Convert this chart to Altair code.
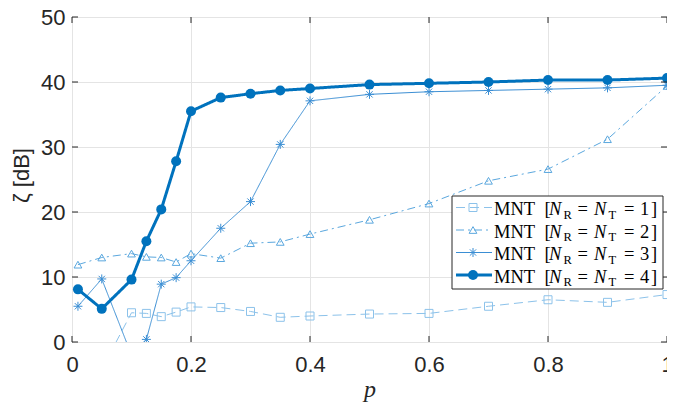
import altair as alt
import pandas as pd

# ---- data ----
p_vals = [0.01, 0.05, 0.1, 0.125, 0.15, 0.175, 0.2, 0.25, 0.3, 0.35, 0.4, 0.5, 0.6, 0.7, 0.8, 0.9, 1.0]
zeta_n1 = [-2.5, -4.2, 4.5, 4.4, 3.9, 4.6, 5.4, 5.3, 4.7, 3.8, 4.0, 4.3, 4.4, 5.5, 6.5, 6.1, 7.3]
zeta_n2 = [11.9, 13.0, 13.6, 13.1, 13.0, 12.3, 13.6, 12.9, 15.2, 15.4, 16.6, 18.8, 21.3, 24.8, 26.6, 31.2, 39.4]
zeta_n3 = [5.5, 9.7, -2.0, 0.4, 8.9, 9.9, 12.5, 17.5, 21.6, 30.4, 37.1, 38.1, 38.5, 38.7, 38.9, 39.1, 39.5]
zeta_n4 = [8.1, 5.1, 9.6, 15.5, 20.4, 27.8, 35.5, 37.6, 38.2, 38.7, 39.0, 39.6, 39.8, 40.0, 40.3, 40.3, 40.6]
series_n = ["1", "2", "3", "4"]
x_ticks = [0, 0.2, 0.4, 0.6, 0.8, 1]
y_ticks = [0, 10, 20, 30, 40, 50]

# ---- layout / style ----
W, H = 595, 325
LX = W - 599  # legend horizontal shift (legend anchored to the right edge)
AX = "#262626"
GRID = "#e4e4e4"
STAR = "M-1,0L1,0M0,-1L0,1M-0.7,-0.7L0.7,0.7M-0.7,0.7L0.7,-0.7"
styles = [
    dict(color="#8cc2ea", width=1, dash=[9, 5], shape="square", size=64, filled=False, sw=1),
    dict(color="#5aa7de", width=1, dash=[8, 4, 2, 4], shape="triangle-up", size=60, filled=False, sw=1),
    dict(color="#3a8ed4", width=1, dash=[1, 0], shape=STAR, size=81, filled=False, sw=1),
    dict(color="#0072bd", width=3, dash=[1, 0], shape="circle", size=100, filled=True, sw=1),
]
series_vals = [zeta_n1, zeta_n2, zeta_n3, zeta_n4]

xs = alt.Scale(domain=[0, 1], nice=False, zero=False)
ys = alt.Scale(domain=[0, 50], nice=False, zero=False)
x_enc = alt.X("p:Q", scale=xs, axis=alt.Axis(
    values=x_ticks, format="~g", title="p", grid=True, gridColor=GRID, labelFlush=False,
    ticks=False, tickSize=0, domain=False, labelFont="Liberation Sans", labelFontSize=22,
    labelColor=AX, labelPadding=12, titleFont="Liberation Serif", titleFontStyle="italic",
    titleFontWeight="normal", titleFontSize=24, titleColor=AX, titleY=54,
    titleBaseline="alphabetic"))
y_enc = alt.Y("z:Q", scale=ys, axis=alt.Axis(
    values=y_ticks, title="ζ [dB]", grid=True, gridColor=GRID, labelFlush=False,
    ticks=False, tickSize=0, domain=False, labelFont="Liberation Sans", labelFontSize=22,
    labelColor=AX, labelPadding=7, titleFont="Liberation Sans", titleFontWeight="normal",
    titleFontSize=22, titleColor=AX, titleAngle=270, titleX=-51, titleY=158,
    titleAlign="center", titleBaseline="middle"))

layers = []
for n, vals, st in zip(series_n, series_vals, styles):
    df = pd.DataFrame({"p": p_vals, "z": vals})
    base = alt.Chart(df).encode(x=x_enc, y=y_enc)
    layers.append(base.mark_line(color=st["color"], strokeWidth=st["width"],
                                 strokeDash=st["dash"], clip=True))
    layers.append(base.mark_point(shape=st["shape"], size=st["size"], filled=st["filled"],
                                  color=st["color"], strokeWidth=st["sw"], opacity=1, clip=True))

# inward ticks on all four sides
xt = pd.DataFrame({"p": x_ticks})
yt = pd.DataFrame({"z": y_ticks})
layers.append(alt.Chart(xt).mark_rule(color=AX, strokeWidth=1).encode(x=x_enc, y=alt.value(H), y2=alt.value(H - 6)))
layers.append(alt.Chart(xt).mark_rule(color=AX, strokeWidth=1).encode(x=x_enc, y=alt.value(0), y2=alt.value(6)))
layers.append(alt.Chart(yt).mark_rule(color=AX, strokeWidth=1).encode(y=y_enc, x=alt.value(0), x2=alt.value(6)))
layers.append(alt.Chart(yt).mark_rule(color=AX, strokeWidth=1).encode(y=y_enc, x=alt.value(W), x2=alt.value(W - 6)))

# ---- legend (drawn inside the axes, bottom right) ----
one = pd.DataFrame({"a": [0]})
layers.append(alt.Chart(one).mark_rect(fill="white", stroke=AX, strokeWidth=1).encode(
    x=alt.value(384 + LX), x2=alt.value(595 + LX), y=alt.value(179), y2=alt.value(272)))
rows_y = [190.5, 213, 235.5, 258]
for n, st, ry in zip(series_n, styles, rows_y):
    layers.append(alt.Chart(one).mark_rule(color=st["color"], strokeWidth=st["width"],
                                           strokeDash=st["dash"]).encode(
        x=alt.value(388 + LX), x2=alt.value(424 + LX), y=alt.value(ry)))
    layers.append(alt.Chart(one).mark_point(shape=st["shape"], size=st["size"], filled=st["filled"],
                                            color=st["color"], strokeWidth=st["sw"], opacity=1).encode(
        x=alt.value(405 + LX), y=alt.value(ry)))
    bl = ry + 7.5
    pieces = [
        ("MNT", 426, bl, 18.5, "normal"),
        ("[", 476.5, bl, 18.5, "normal"),
        ("N", 481, bl, 18.5, "italic"),
        ("R", 495.5, bl + 3.5, 12.5, "normal"),
        ("=", 509.5, bl, 18.5, "normal"),
        ("N", 526, bl, 18.5, "italic"),
        ("T", 540.5, bl + 3.5, 12.5, "normal"),
        ("=", 556, bl, 18.5, "normal"),
        (n, 572, bl, 18.5, "normal"),
        ("]", 583, bl, 18.5, "normal"),
    ]
    for txt, px, py, fs, sty in pieces:
        layers.append(alt.Chart(one).mark_text(text=txt, font="Liberation Serif", fontSize=fs,
                                               fontStyle=sty, color="black", align="left",
                                               baseline="alphabetic").encode(
            x=alt.value(px + LX), y=alt.value(py)))

chart = alt.layer(*layers).properties(
    width=W, height=H,
    autosize=alt.AutoSizeParams(type="none"),
    padding={"left": 64, "top": 9, "right": 0, "bottom": 60},
).configure_view(stroke=AX, strokeWidth=1)

chart.save("out.html", embed_options={"renderer": "svg", "actions": False})
